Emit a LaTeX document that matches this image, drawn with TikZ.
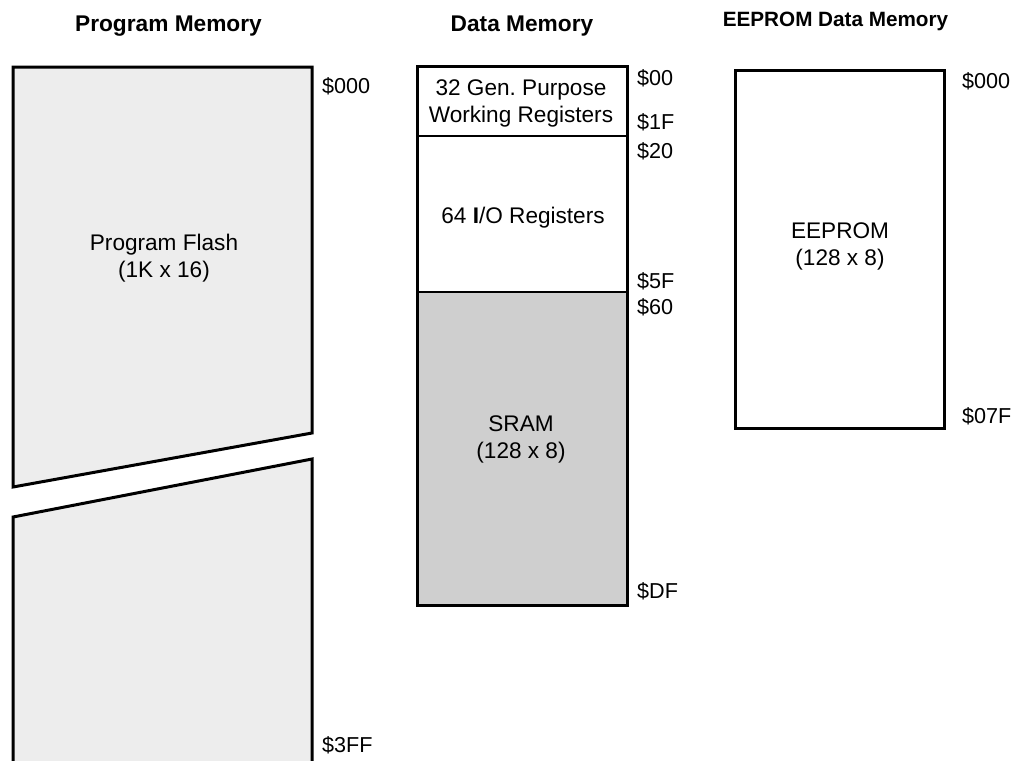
\documentclass[tikz,border=0pt]{standalone}
\usepackage{fontspec}
\setmainfont{Liberation Sans}
\frenchspacing
\definecolor{flashfill}{HTML}{EDEDED}
\definecolor{sramfill}{HTML}{CFCFCF}
\begin{document}
\begin{tikzpicture}[x=1pt,y=-1pt,
  box/.style={draw=black,line width=3pt,line join=miter},
  divider/.style={draw=black,line width=1.3pt},
  txt/.style={font=\fontsize{22.6}{27}\selectfont,align=center,inner sep=0pt,anchor=base},
  addr/.style={font=\fontsize{21.6}{26}\selectfont,inner sep=0pt,anchor=base west},
  title/.style={font=\bfseries\fontsize{22.7}{27}\selectfont,inner sep=0pt,anchor=base},
  smalltitle/.style={font=\bfseries\fontsize{20.7}{25}\selectfont,inner sep=0pt,anchor=base},
]
\useasboundingbox (0,0) rectangle (1027,760);

% titles
\node[title] (tprog) at (168.5,32) {Program Memory};
\node[title] (tdata) at (522,32) {Data Memory};
\node[smalltitle] (teep) at (835.5,27) {EEPROM Data Memory};

% program memory
\coordinate (pA) at (13,67);
\coordinate (pB) at (312,67);
\coordinate (pC) at (312,433);
\coordinate (pD) at (13,487);
\filldraw[box,fill=flashfill] (pA) -- (pB) -- (pC) -- (pD) -- cycle;
\coordinate (qA) at (13,517);
\coordinate (qB) at (312,459);
\coordinate (qC) at (312,766);
\coordinate (qD) at (13,766);
\fill[flashfill] (qA) -- (qB) -- (qC) -- (qD) -- cycle;
\draw[box] (qD) -- (qA) -- (qB) -- (qC);
\node[txt] (flash) at (164,277) {Program Flash\\(1K x 16)};
\node[addr] (p000) at (322,93) {\$000};
\node[addr] (p3ff) at (322,752) {\$3FF};

% data memory
\coordinate (dTL) at (417,66);
\coordinate (dBR) at (627,605);
\fill[sramfill] (417,292) rectangle (dBR);
\draw[divider] (417,136) -- (627,136);
\draw[divider] (417,292) -- (627,292);
\draw[box] (dTL) rectangle (dBR);
\node[txt] (gpr) at (521,122) {32 Gen. Purpose\\Working Registers};
\node[txt] (io) at (523,223) {64 \textbf{I}/O Registers};
\node[txt] (sram) at (521,458) {SRAM\\(128 x 8)};
\node[addr] (d00) at (637,85) {\$00};
\node[addr] (d1f) at (637,129) {\$1F};
\node[addr] (d20) at (637,158) {\$20};
\node[addr] (d5f) at (637,288) {\$5F};
\node[addr] (d60) at (637,314) {\$60};
\node[addr] (ddf) at (637,598) {\$DF};

% eeprom
\coordinate (eTL) at (735,70);
\coordinate (eBR) at (944,428);
\draw[box] (eTL) rectangle (eBR);
\node[txt] (eep) at (840,265) {EEPROM\\(128 x 8)};
\node[addr] (e000) at (962,88) {\$000};
\node[addr] (e07f) at (962,423) {\$07F};
\end{tikzpicture}
\end{document}
